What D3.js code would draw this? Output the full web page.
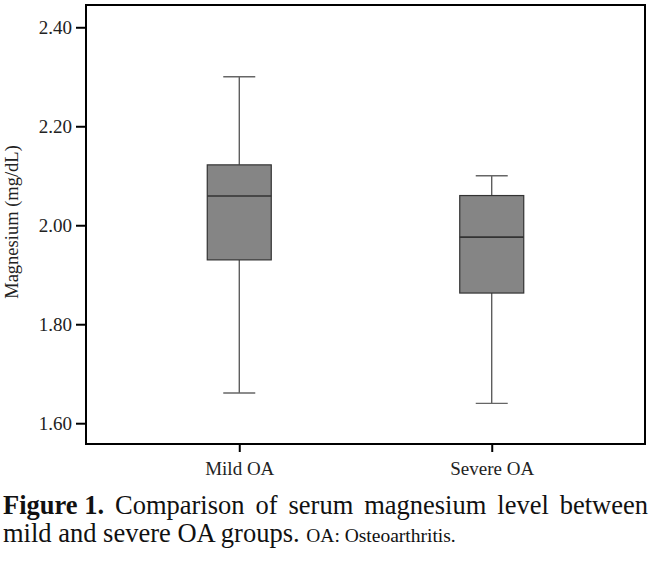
<!DOCTYPE html>
<html>
<head>
<meta charset="utf-8">
<script src="https://cdn.jsdelivr.net/npm/d3@7"></script>
<style>
  body { margin: 0; background: #fff; }
  svg text { font-family: "Liberation Serif", "DejaVu Serif", serif; }
</style>
</head>
<body>
<svg id="viz"></svg>
<script>
// data
const groups = ["Mild OA", "Severe OA"];
const whiskerLow = [1.661, 1.640];
const q1 = [1.930, 1.863];
const median = [2.059, 1.976];
const q3 = [2.122, 2.060];
const whiskerHigh = [2.300, 2.100];
const yTicks = [1.60, 1.80, 2.00, 2.20, 2.40];

const width = 652, height = 562;
const frame = { left: 86, right: 645, top: 5, bottom: 444 };
const serif = "'Liberation Serif', 'DejaVu Serif', serif";

const svg = d3.select("#viz").attr("width", width).attr("height", height)
  .attr("font-family", serif);

const boxes = groups.map((g, i) => ({
  group: g, lo: whiskerLow[i], q1: q1[i], med: median[i], q3: q3[i], hi: whiskerHigh[i]
}));

const y = d3.scaleLinear().domain([1.558, 2.445]).range([frame.bottom, frame.top]);
const x = d3.scalePoint().domain(groups).range([frame.left, frame.right]).padding(0.607);

const boxW = 64, capW = 32;

// boxes
const g = svg.selectAll("g.box").data(boxes).join("g").attr("class", "box");

g.append("line") // upper whisker
  .attr("x1", d => x(d.group)).attr("x2", d => x(d.group))
  .attr("y1", d => y(d.q3)).attr("y2", d => y(d.hi))
  .attr("stroke", "#444").attr("stroke-width", 1.2);
g.append("line") // lower whisker
  .attr("x1", d => x(d.group)).attr("x2", d => x(d.group))
  .attr("y1", d => y(d.q1)).attr("y2", d => y(d.lo))
  .attr("stroke", "#444").attr("stroke-width", 1.2);
g.append("line")
  .attr("x1", d => x(d.group) - capW / 2).attr("x2", d => x(d.group) + capW / 2)
  .attr("y1", d => y(d.hi)).attr("y2", d => y(d.hi))
  .attr("stroke", "#666").attr("stroke-width", 1.3);
g.append("line")
  .attr("x1", d => x(d.group) - capW / 2).attr("x2", d => x(d.group) + capW / 2)
  .attr("y1", d => y(d.lo)).attr("y2", d => y(d.lo))
  .attr("stroke", "#666").attr("stroke-width", 1.3);
g.append("rect")
  .attr("x", d => x(d.group) - boxW / 2).attr("width", boxW)
  .attr("y", d => y(d.q3)).attr("height", d => y(d.q1) - y(d.q3))
  .attr("fill", "#858585").attr("stroke", "#333").attr("stroke-width", 1.2);
g.append("line")
  .attr("x1", d => x(d.group) - boxW / 2).attr("x2", d => x(d.group) + boxW / 2)
  .attr("y1", d => y(d.med)).attr("y2", d => y(d.med))
  .attr("stroke", "#333").attr("stroke-width", 1.6);

// frame
svg.append("rect")
  .attr("x", frame.left).attr("y", frame.top)
  .attr("width", frame.right - frame.left).attr("height", frame.bottom - frame.top)
  .attr("fill", "none").attr("stroke", "#000").attr("stroke-width", 2);

// axes
const yAxis = svg.append("g").attr("transform", `translate(${frame.left},0)`)
  .call(d3.axisLeft(y).tickValues(yTicks).tickFormat(d3.format(".2f")).tickSize(10).tickPadding(4));
const xAxis = svg.append("g").attr("transform", `translate(0,${frame.bottom})`)
  .call(d3.axisBottom(x).tickSize(8).tickPadding(10));
[yAxis, xAxis].forEach(a => {
  a.attr("font-family", serif).attr("font-size", 19);
  a.select(".domain").remove();
  a.selectAll(".tick line").attr("stroke", "#000").attr("stroke-width", 2);
  a.selectAll(".tick text").attr("fill", "#222");
});

svg.append("text")
  .attr("transform", "translate(18,222) rotate(-90)")
  .attr("text-anchor", "middle")
  .attr("font-size", 18.5).attr("fill", "#222")
  .text("Magnesium (mg/dL)");

// caption, first line justified across the width
const line1 = [["Figure 1.", true], ["Comparison", false], ["of", false], ["serum", false],
  ["magnesium", false], ["level", false], ["between", false]];
const cap1 = svg.append("text").attr("y", 514).attr("font-size", 26.5).attr("fill", "#111");
const spans = line1.map(([w, b]) => cap1.append("tspan").text(w).attr("font-weight", b ? "bold" : "normal"));
const widths = spans.map(s => s.node().getComputedTextLength());
const left = 3, right = 648;
const gap = (right - left - d3.sum(widths)) / (spans.length - 1);
let cx = left;
spans.forEach((s, i) => { s.attr("x", cx); cx += widths[i] + gap; });

const cap2 = svg.append("text").attr("x", 3).attr("y", 542).attr("fill", "#111").attr("font-size", 26.5);
cap2.append("tspan").text("mild and severe OA groups. ");
cap2.append("tspan").attr("font-size", 19.5).text("OA: Osteoarthritis.");
</script>
</body>
</html>
